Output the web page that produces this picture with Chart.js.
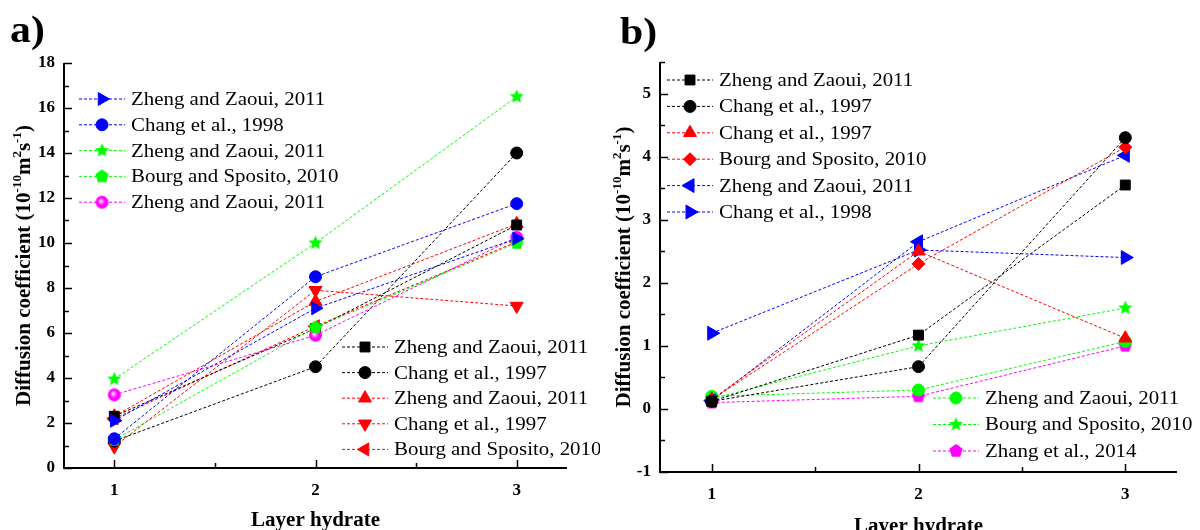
<!DOCTYPE html>
<html>
<head>
<meta charset="utf-8">
<script src="https://cdn.jsdelivr.net/npm/chart.js@4.4.0/dist/chart.umd.min.js"></script>
<style>
  body { margin: 0; background: #fff; }
  .panel { position: absolute; top: 0; width: 600px; height: 530px; }
  #panelA { left: 0; }
  #panelB { left: 600px; }
</style>
</head>
<body>
<div class="panel" id="panelA"><canvas id="chartA"></canvas></div>
<div class="panel" id="panelB"><canvas id="chartB"></canvas></div>
<script>
// layer hydrate states on the x axis
const hydrateLevels = [1, 2, 3];
const xTickLabels = ['1', '2', '3'];
const aYTicks = [0, 2, 4, 6, 8, 10, 12, 14, 16, 18];
const bYTicks = [-1, 0, 1, 2, 3, 4, 5];

// panel a: diffusion coefficients (1e-10 m2/s)
const aZhengRight = [2.1, 7.1, 10.2];
const aChang1998 = [1.3, 8.5, 11.75];
const aZhengStar = [3.95, 10.0, 16.5];
const aBourgPentagon = [1.25, 6.25, 10.0];
const aZhengSphere = [3.25, 5.9, 10.25];
const aZhengSquare = [2.3, 6.2, 10.8];
const aChang1997Circle = [1.2, 4.5, 14.0];
const aZhengUp = [2.3, 7.4, 10.85];
const aChang1997Down = [0.95, 7.9, 7.2];
const aBourgLeft = [2.2, 6.3, 10.05];

// panel b
const bZhengSquare = [0.12, 1.17, 3.55];
const bChang1997Circle = [0.12, 0.67, 4.3];
const bChang1997Up = [0.15, 2.5, 1.12];
const bBourgDiamond = [0.15, 2.3, 4.15];
const bZhengLeft = [0.13, 2.65, 4.02];
const bChang1998Right = [1.2, 2.52, 2.4];
const bZhengCircle = [0.2, 0.3, 1.07];
const bBourgStar = [0.16, 1.0, 1.6];
const bZhang2014 = [0.1, 0.2, 1.0];

const SERIF = "'Liberation Serif', 'Times New Roman', serif";

function makeSprite(r, paint) {
  const c = document.createElement('canvas');
  c.width = c.height = Math.ceil(2 * r + 2);
  const g = c.getContext('2d');
  paint(g, c.width / 2);
  return c;
}
function starMarker(color, r) {
  return makeSprite(r, (g, m) => {
    g.beginPath();
    for (let i = 0; i < 10; i++) {
      const d = i % 2 ? r * 0.45 : r;
      const a = -Math.PI / 2 + i * Math.PI / 5;
      g.lineTo(m + d * Math.cos(a), m + d * Math.sin(a));
    }
    g.closePath();
    g.fillStyle = color;
    g.fill();
  });
}
function pentagonMarker(color, r) {
  return makeSprite(r, (g, m) => {
    g.beginPath();
    for (let i = 0; i < 5; i++) {
      const a = -Math.PI / 2 + i * 2 * Math.PI / 5;
      g.lineTo(m + r * Math.cos(a), m + r * Math.sin(a));
    }
    g.closePath();
    g.fillStyle = color;
    g.fill();
  });
}
function sphereMarker(color, r) {
  return makeSprite(r, (g, m) => {
    const grad = g.createRadialGradient(m - r * 0.2, m - r * 0.2, 0.5, m, m, r);
    grad.addColorStop(0, '#ffd6ff');
    grad.addColorStop(0.55, color);
    grad.addColorStop(1, color);
    g.beginPath();
    g.arc(m, m, r, 0, Math.PI * 2);
    g.fillStyle = grad;
    g.fill();
  });
}

function series(label, values, color, pointStyle, radius, rotation) {
  return {
    label,
    data: values.map((v, i) => ({ x: hydrateLevels[i], y: v })),
    borderColor: color,
    backgroundColor: color,
    borderWidth: 1,
    borderDash: [3, 2],
    pointStyle,
    pointRadius: radius,
    pointRotation: rotation || 0,
    pointBorderWidth: 1,
    showLine: true,
    tension: 0
  };
}

// inward ticks, axis lines, titles and the panel letter
const frame = {
  id: 'frame',
  afterDraw(chart, args, o) {
    const { ctx, chartArea: ca } = chart;
    const xs = chart.scales.x, ys = chart.scales.y;
    ctx.save();
    ctx.strokeStyle = '#000';
    ctx.lineWidth = 2;
    ctx.beginPath();
    ctx.moveTo(ca.left, ca.top);
    ctx.lineTo(ca.left, ca.bottom);
    ctx.lineTo(ca.right, ca.bottom);
    ctx.stroke();

    ctx.lineWidth = 1.5;
    ctx.beginPath();
    for (let v = ys.min; v <= ys.max + 1e-9; v += o.yMinor) {
      const major = Math.abs(v / o.yMajor - Math.round(v / o.yMajor)) < 1e-6;
      const py = Math.round(ys.getPixelForValue(v)) + 0.5;
      ctx.moveTo(ca.left, py);
      ctx.lineTo(ca.left + (major ? 8 : 5), py);
    }
    for (let v = 1; v <= 3 + 1e-9; v += 0.5) {
      const major = Math.abs(v - Math.round(v)) < 1e-6;
      const px = Math.round(xs.getPixelForValue(v)) + 0.5;
      ctx.moveTo(px, ca.bottom);
      ctx.lineTo(px, ca.bottom - (major ? 8 : 5));
    }
    ctx.stroke();

    ctx.fillStyle = '#000';
    // panel letter
    ctx.save();
    ctx.translate(o.letterX, o.letterY);
    ctx.scale(1.1, 1);
    ctx.font = 'bold 38px ' + SERIF;
    ctx.fillText(o.letter, 0, 0);
    ctx.restore();

    // x title
    ctx.save();
    ctx.translate((ca.left + ca.right) / 2, o.xTitleY);
    ctx.scale(1.05, 1);
    ctx.font = 'bold 20px ' + SERIF;
    ctx.textAlign = 'center';
    ctx.fillText('Layer hydrate', 0, 0);
    ctx.restore();

    // y title with superscripts
    const parts = [['Diffusion coefficient (10', 0], ['-10', 1], ['m', 0], ['2', 1], ['s', 0], ['-1', 1], [')', 0]];
    const big = 'bold 21px ' + SERIF, small = 'bold 13px ' + SERIF;
    let total = 0;
    parts.forEach(p => { ctx.font = p[1] ? small : big; total += ctx.measureText(p[0]).width; });
    ctx.save();
    ctx.translate(o.yTitleX, (ca.top + ca.bottom) / 2);
    ctx.rotate(-Math.PI / 2);
    let cx = -total / 2;
    parts.forEach(p => {
      ctx.font = p[1] ? small : big;
      ctx.fillText(p[0], cx, p[1] ? -9 : 0);
      cx += ctx.measureText(p[0]).width;
    });
    ctx.restore();
    ctx.restore();
  }
};

// legend split into separate blocks inside the plot
const groupLegend = {
  id: 'groupLegend',
  afterDraw(chart, args, o) {
    const ctx = chart.ctx;
    o.groups.forEach(grp => {
      grp.items.forEach((di, row) => {
        const ds = chart.data.datasets[di];
        const y = grp.y + row * grp.gap;
        ctx.save();
        ctx.strokeStyle = ds.borderColor;
        ctx.lineWidth = 1;
        ctx.setLineDash([3, 2]);
        ctx.beginPath();
        ctx.moveTo(grp.x - 23, y);
        ctx.lineTo(grp.x + 23, y);
        ctx.stroke();
        ctx.setLineDash([]);
        ctx.fillStyle = ds.backgroundColor;
        Chart.helpers.drawPoint(ctx, {
          pointStyle: ds.pointStyle, radius: ds.pointRadius,
          rotation: ds.pointRotation, borderWidth: 1
        }, grp.x, y);
        ctx.translate(grp.x + 29, y);
        ctx.scale(1.1, 1);
        ctx.font = '19px ' + SERIF;
        ctx.fillStyle = '#000';
        ctx.textBaseline = 'middle';
        ctx.fillText(ds.label, 0, 1);
        ctx.restore();
      });
    });
  }
};

function makeChart(id, datasets, cfg) {
  return new Chart(document.getElementById(id), {
    type: 'scatter',
    data: { datasets },
    plugins: [frame, groupLegend],
    options: {
      responsive: true,
      maintainAspectRatio: false,
      animation: false,
      events: [],
      layout: { padding: cfg.padding },
      scales: {
        x: {
          type: 'linear', min: 0.75, max: 3.25,
          grid: { display: false, drawTicks: false },
          border: { display: false },
          afterBuildTicks: s => { s.ticks = hydrateLevels.map(v => ({ value: v })); },
          afterFit: s => { s.height = cfg.xHeight; },
          ticks: {
            padding: 12, color: '#000',
            font: { family: SERIF, size: 17, weight: 'bold' },
            callback: v => xTickLabels[hydrateLevels.indexOf(v)]
          }
        },
        y: {
          min: cfg.yMin, max: cfg.yMax,
          grid: { display: false, drawTicks: false },
          border: { display: false },
          afterBuildTicks: s => { s.ticks = cfg.yTicks.map(v => ({ value: v })); },
          afterFit: s => { s.width = cfg.yWidth; },
          ticks: {
            padding: 9, color: '#000',
            font: { family: SERIF, size: 17, weight: 'bold' }
          }
        }
      },
      plugins: {
        legend: { display: false },
        tooltip: { enabled: false },
        frame: cfg.frame,
        groupLegend: { groups: cfg.groups }
      }
    }
  });
}

const BLUE = '#0000ff', GREEN = '#00ff00', MAGENTA = '#ff00ff', RED = '#ff0000', BLACK = '#000000';

makeChart('chartA', [
  series('Zheng and Zaoui, 2011', aZhengRight, BLUE, 'triangle', 7.5, 90),
  series('Chang et al., 1998', aChang1998, BLUE, 'circle', 6),
  series('Zheng and Zaoui, 2011', aZhengStar, GREEN, starMarker(GREEN, 7.5), 7.5),
  series('Bourg and Sposito, 2010', aBourgPentagon, GREEN, pentagonMarker(GREEN, 7), 7),
  series('Zheng and Zaoui, 2011', aZhengSphere, MAGENTA, sphereMarker(MAGENTA, 6.5), 6.5),
  series('Zheng and Zaoui, 2011', aZhengSquare, BLACK, 'rect', 7),
  series('Chang et al., 1997', aChang1997Circle, BLACK, 'circle', 6),
  series('Zheng and Zaoui, 2011', aZhengUp, RED, 'triangle', 7.5),
  series('Chang et al., 1997', aChang1997Down, RED, 'triangle', 7.5, 180),
  series('Bourg and Sposito, 2010', aBourgLeft, RED, 'triangle', 7.5, -90)
], {
  padding: { top: 63, right: 33, left: 0, bottom: 0 },
  xHeight: 62, yWidth: 64, yMin: 0, yMax: 18, yTicks: aYTicks,
  frame: { letter: 'a)', letterX: 10, letterY: 42, yMajor: 2, yMinor: 1, yTitleX: 30, xTitleY: 526 },
  groups: [
    { x: 102, y: 99, gap: 25.8, items: [0, 1, 2, 3, 4] },
    { x: 365, y: 347, gap: 25.6, items: [5, 6, 7, 8, 9] }
  ]
});

makeChart('chartB', [
  series('Zheng and Zaoui, 2011', bZhengSquare, BLACK, 'rect', 7),
  series('Chang et al., 1997', bChang1997Circle, BLACK, 'circle', 6),
  series('Chang et al., 1997', bChang1997Up, RED, 'triangle', 7.5),
  series('Bourg and Sposito, 2010', bBourgDiamond, RED, 'rectRot', 6.5),
  series('Zheng and Zaoui, 2011', bZhengLeft, BLUE, 'triangle', 8, -90),
  series('Chang et al., 1998', bChang1998Right, BLUE, 'triangle', 8, 90),
  series('Zheng and Zaoui, 2011', bZhengCircle, GREEN, 'circle', 6),
  series('Bourg and Sposito, 2010', bBourgStar, GREEN, starMarker(GREEN, 7.5), 7.5),
  series('Zhang et al., 2014', bZhang2014, MAGENTA, pentagonMarker(MAGENTA, 7), 7)
], {
  padding: { top: 62, right: 23, left: 0, bottom: 0 },
  xHeight: 58, yWidth: 60, yMin: -1, yMax: 5.5, yTicks: bYTicks,
  frame: { letter: 'b)', letterX: 20, letterY: 44, yMajor: 1, yMinor: 0.5, yTitleX: 30, xTitleY: 532 },
  groups: [
    { x: 90, y: 80, gap: 26.4, items: [0, 1, 2, 3, 4, 5] },
    { x: 356, y: 398, gap: 26.5, items: [6, 7, 8] }
  ]
});
</script>
</body>
</html>
